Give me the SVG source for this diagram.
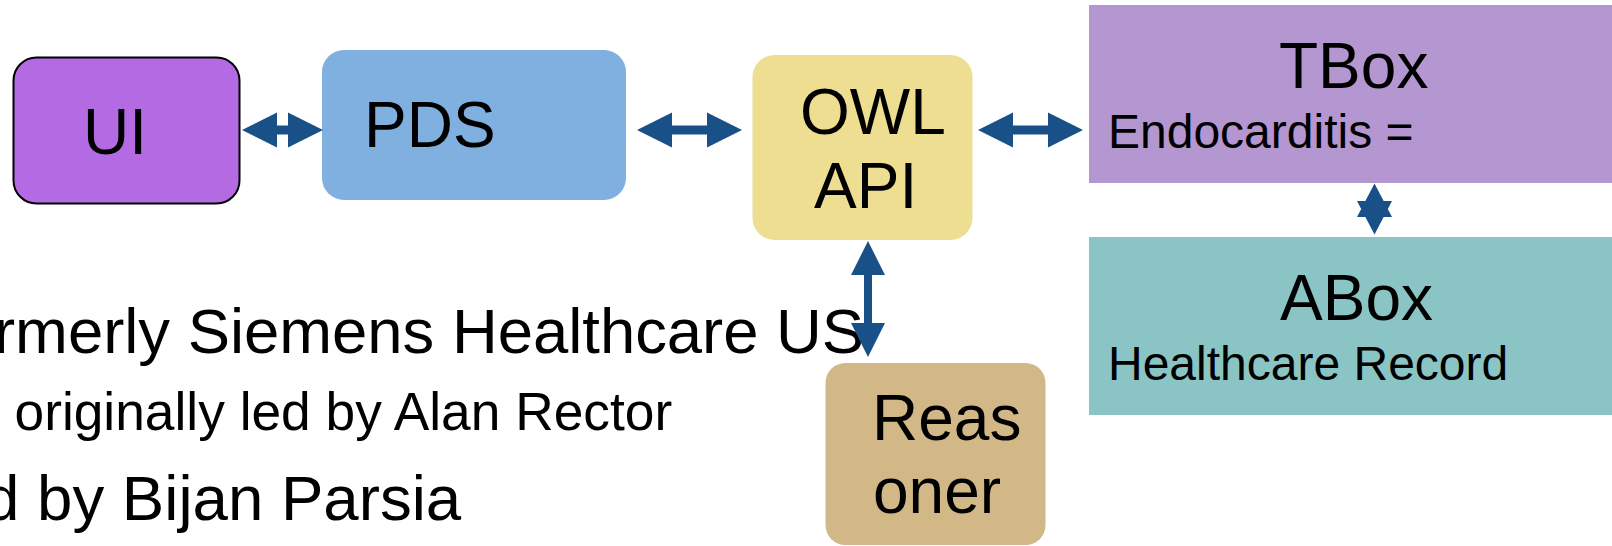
<svg xmlns="http://www.w3.org/2000/svg" width="1612" height="546" viewBox="0 0 1612 546">
<style>
text{font-family:"Liberation Sans",Arial,sans-serif;fill:#000}
.big{font-size:64px}
.mid{font-size:48px}
.sm{font-size:53.3px}
.arrow{fill:#1A5088}
</style>
<rect width="1612" height="546" fill="#FFFFFF"/>
<g id="ui">
<rect x="13.5" y="57.5" width="226" height="146" rx="23" fill="#B36AE2" stroke="#000" stroke-width="2"/>
<text class="big" x="83" y="154">UI</text>
</g>
<g id="pds">
<rect x="322" y="50" width="304" height="150" rx="22" fill="#80B0DF"/>
<text class="big" x="364" y="147">PDS</text>
</g>
<g id="owlapi">
<rect x="752.5" y="55" width="220" height="185" rx="22" fill="#EEDE91"/>
<text class="big" x="800" y="134">OWL</text>
<text class="big" x="814" y="208">API</text>
</g>
<g id="reasoner">
<rect x="825.5" y="363" width="220" height="182" rx="20" fill="#D2B886"/>
<text class="big" x="872" y="440">Reas</text>
<text class="big" x="873" y="513">oner</text>
</g>
<g id="tbox">
<rect x="1089" y="5" width="523" height="178" fill="#B496D0"/>
<text class="big" x="1279" y="88">TBox</text>
<text class="mid" x="1108" y="148">Endocarditis =</text>
</g>
<g id="abox">
<rect x="1089" y="237" width="523" height="178" fill="#8AC4C4"/>
<text class="big" x="1280" y="320">ABox</text>
<text class="mid" x="1108" y="380">Healthcare Record</text>
</g>
<g id="notes">
<text x="-6" y="353" style="font-size:63.4px">rmerly Siemens Healthcare US</text>
<text class="sm" x="14.5" y="430">originally led by Alan Rector</text>
<text x="-16" y="520" style="font-size:63.6px">d by Bijan Parsia</text>
</g>
<g id="connectors">
<path class="arrow" d="M242 130 L277 112.5 L277 125.5 L288 125.5 L288 112.5 L323 130 L288 147.5 L288 134.5 L277 134.5 L277 147.5 Z"/>
<path class="arrow" d="M637 130 L672 112.5 L672 125.5 L707 125.5 L707 112.5 L742 130 L707 147.5 L707 134.5 L672 134.5 L672 147.5 Z"/>
<path class="arrow" d="M978 130 L1013 112.5 L1013 125.5 L1048 125.5 L1048 112.5 L1083 130 L1048 147.5 L1048 134.5 L1013 134.5 L1013 147.5 Z"/>
<path class="arrow" d="M868 241 L885 275 L872 275 L872 323 L885 323 L868 357 L851 323 L864 323 L864 275 L851 275 Z"/>
<path class="arrow" d="M1374.5 183.5 L1392 217 L1357 217 Z M1357 201 L1392 201 L1374.5 234.5 Z"/>
</g>
</svg>
